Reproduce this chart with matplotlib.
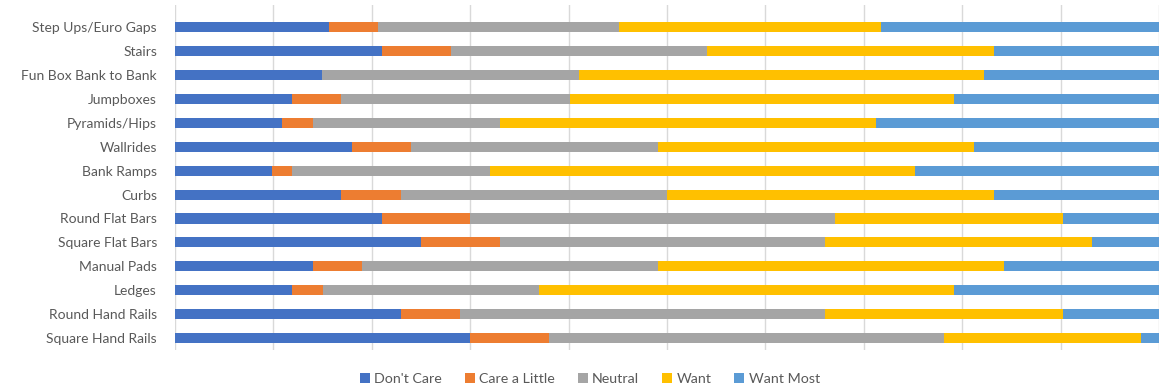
import numpy as np
import matplotlib.pyplot as plt

plt.rcParams['font.family'] = ['Lato', 'DejaVu Sans']

categories = ["Step Ups/Euro Gaps", "Stairs", "Fun Box Bank to Bank", "Jumpboxes",
              "Pyramids/Hips", "Wallrides", "Bank Ramps", "Curbs", "Round Flat Bars",
              "Square Flat Bars", "Manual Pads", "Ledges", "Round Hand Rails",
              "Square Hand Rails"]

dont_care = [15.7, 21.0, 14.9, 11.9, 10.9, 18.0, 9.9, 16.9, 21.0, 25.0, 14.0, 11.9, 23.0, 30.0]
care_little = [4.9, 7.0, 0.0, 5.0, 3.1, 6.0, 2.0, 6.1, 9.0, 8.0, 5.0, 3.1, 6.0, 8.0]
neutral = [24.5, 26.1, 26.2, 23.2, 19.0, 25.1, 20.1, 27.0, 37.1, 33.1, 30.1, 22.0, 37.1, 40.2]
want = [26.6, 29.1, 41.1, 39.1, 38.2, 32.1, 43.2, 33.2, 23.1, 27.1, 35.1, 42.2, 24.1, 20.0]
want_most = [28.3, 16.8, 17.8, 20.8, 28.8, 18.8, 24.8, 16.8, 9.8, 6.8, 15.8, 20.8, 9.8, 1.8]

series = [("Don't Care", dont_care, "#4472C4"),
          ("Care a Little", care_little, "#ED7D31"),
          ("Neutral", neutral, "#A5A5A5"),
          ("Want", want, "#FFC000"),
          ("Want Most", want_most, "#5B9BD5")]

text_color = "#595959"

fig = plt.figure(figsize=(11.59, 3.89), dpi=100)
ax = fig.add_axes([0.151, 0.100, 0.849, 0.887])

y = np.arange(len(categories))
total = np.sum([s[1] for s in series], axis=0)
left = np.zeros(len(categories))
for name, vals, col in series:
    w = np.array(vals) / total
    ax.barh(y, w, left=left, height=0.42, color=col, label=name, zorder=2)
    left += w

ax.set_xlim(0, 1)
ax.set_ylim(13.5, -0.92)
ax.set_xticks(np.arange(0, 1.01, 0.1))
ax.set_xticklabels([])
ax.tick_params(axis='x', length=0)
ax.grid(axis='x', color="#D9D9D9", linewidth=1, zorder=0)
ax.set_yticks(y)
ax.set_yticklabels(categories, fontsize=10, color=text_color)
ax.tick_params(axis='y', length=0, pad=13)
for s in ax.spines.values():
    s.set_visible(False)

fig.legend(loc='center', bbox_to_anchor=(590 / 1159, 1 - 379 / 389), ncol=5,
           frameon=False, fontsize=10.3, labelcolor=text_color,
           handlelength=0.7, handleheight=0.7, handletextpad=0.3,
           columnspacing=1.6)

fig.savefig("out.png", dpi=100)
